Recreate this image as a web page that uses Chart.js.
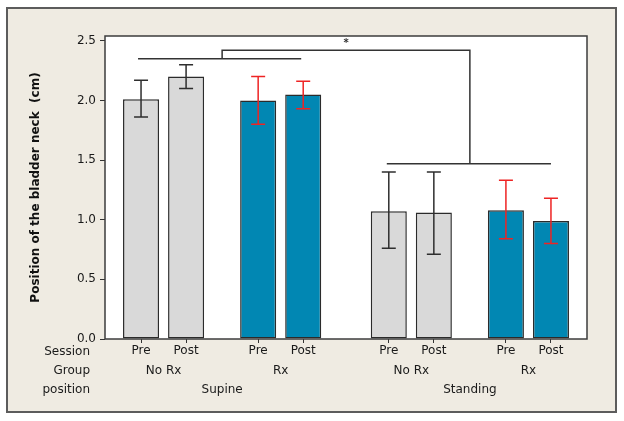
<!DOCTYPE html>
<html>
<head>
<meta charset="utf-8">
<script src="https://cdn.jsdelivr.net/npm/chart.js@4.4.1/dist/chart.umd.min.js"></script>
<style>
  body { margin: 0; background: #ffffff; }
  canvas { display: block; }
</style>
</head>
<body>
<canvas id="bladderChart" width="624" height="421"></canvas>
<script>
// data
const sessions = ['Pre', 'Post', 'Pre', 'Post', 'Pre', 'Post', 'Pre', 'Post'];
const groups = ['No Rx', 'Rx', 'No Rx', 'Rx'];
const positions = ['Supine', 'Standing'];
const rowTitles = ['Session', 'Group', 'position'];
const means = [2.01, 2.20, 2.00, 2.05, 1.07, 1.06, 1.08, 0.99];
const errHigh = [2.17, 2.30, 2.20, 2.16, 1.40, 1.40, 1.33, 1.18];
const errLow = [1.86, 2.10, 1.80, 1.93, 0.76, 0.71, 0.84, 0.80];
const yTicks = [0, 0.5, 1.0, 1.5, 2.0, 2.5];
// bracket heights (cm) of the significance marker
const bracketSupine = 2.35;
const bracketTop = 2.42;
const bracketStanding = 1.47;

// layout: bar slots, spacing between pairs / groups / positions
const groupOf = [0, 0, 1, 1, 2, 2, 3, 3];
const positionOf = [0, 0, 1, 1];
const pairStep = 1, groupStep = 1.6, positionStep = 1.9;
const xPos = [];
let cur = 1;
sessions.forEach((s, i) => {
    if (i > 0) {
        if (groupOf[i] === groupOf[i - 1]) cur += pairStep;
        else if (positionOf[groupOf[i]] === positionOf[groupOf[i - 1]]) cur += groupStep;
        else cur += positionStep;
    }
    xPos.push(cur);
});

const grey = '#d9d9d9';
const blue = '#0187b3';
const barFill = groupOf.map(g => g % 2 === 0 ? grey : blue);
const errColor = groupOf.map(g => g % 2 === 0 ? '#2e2e2e' : '#ee2424');
const inkColor = '#333333';
const labelFont = '12px "DejaVu Sans"';

// frame, plot background, error bars, brackets, lower label rows
const decorPlugin = {
    id: 'decor',
    beforeDraw(chart) {
        const c = chart.ctx;
        const a = chart.chartArea;
        c.save();
        c.fillStyle = '#ffffff';
        c.fillRect(0, 0, chart.width, chart.height);
        c.fillStyle = '#efebe2';
        c.fillRect(7, 8, 609, 404);
        c.strokeStyle = '#5c5c5c';
        c.lineWidth = 2;
        c.strokeRect(7, 8, 609, 404);
        c.fillStyle = '#ffffff';
        c.fillRect(a.left, a.top, a.right - a.left, a.bottom - a.top);
        c.restore();
    },
    afterDatasetsDraw(chart) {
        const c = chart.ctx;
        const x = chart.scales.x;
        const y = chart.scales.y;
        const a = chart.chartArea;
        c.save();
        // error bars
        c.lineWidth = 1.5;
        means.forEach((m, i) => {
            const px = x.getPixelForValue(xPos[i]);
            const hi = y.getPixelForValue(errHigh[i]);
            const lo = y.getPixelForValue(errLow[i]);
            c.strokeStyle = errColor[i];
            c.beginPath();
            c.moveTo(px, hi); c.lineTo(px, lo);
            c.moveTo(px - 7, hi); c.lineTo(px + 7, hi);
            c.moveTo(px - 7, lo); c.lineTo(px + 7, lo);
            c.stroke();
        });
        // brackets
        const supL = x.getPixelForValue(xPos[0]);
        const supR = x.getPixelForValue(xPos[3]);
        const staL = x.getPixelForValue(xPos[4]);
        const staR = x.getPixelForValue(xPos[7]);
        const supMid = (supL + supR) / 2;
        const staMid = (staL + staR) / 2;
        const ySup = y.getPixelForValue(bracketSupine);
        const yTop = y.getPixelForValue(bracketTop);
        const ySta = y.getPixelForValue(bracketStanding);
        c.strokeStyle = inkColor;
        c.lineWidth = 1.5;
        c.beginPath();
        c.moveTo(supL - 3, ySup); c.lineTo(supR - 2, ySup);
        c.moveTo(supMid, ySup); c.lineTo(supMid, yTop); c.lineTo(staMid, yTop); c.lineTo(staMid, ySta);
        c.moveTo(staL - 2, ySta); c.lineTo(staR, ySta);
        c.stroke();
        c.fillStyle = inkColor;
        c.font = 'bold 10px "DejaVu Sans"';
        c.textAlign = 'center';
        c.textBaseline = 'middle';
        c.fillText('*', (supMid + staMid) / 2, yTop - 7);
        // plot border
        c.strokeStyle = '#3c3c3c';
        c.lineWidth = 1.5;
        c.strokeRect(a.left, a.top, a.right - a.left, a.bottom - a.top);
        c.restore();
    },
    afterDraw(chart) {
        const c = chart.ctx;
        const x = chart.scales.x;
        const rowY = [352, 371, 390];
        c.save();
        c.fillStyle = '#1a1a1a';
        c.font = labelFont;
        c.textBaseline = 'middle';
        c.textAlign = 'right';
        rowTitles.forEach((t, r) => c.fillText(t, 90, rowY[r]));
        c.textAlign = 'center';
        groups.forEach((g, gi) => {
            const idx = groupOf.map((v, i) => v === gi ? i : -1).filter(i => i >= 0);
            const px = idx.reduce((s, i) => s + x.getPixelForValue(xPos[i]), 0) / idx.length;
            c.fillText(g, px, rowY[1]);
        });
        positions.forEach((p, pi) => {
            const idx = groupOf.map((g, i) => positionOf[g] === pi ? i : -1).filter(i => i >= 0);
            const px = idx.reduce((s, i) => s + x.getPixelForValue(xPos[i]), 0) / idx.length;
            c.fillText(p, px, rowY[2]);
        });
        c.restore();
    }
};

const ctx = document.getElementById('bladderChart').getContext('2d');
new Chart(ctx, {
    type: 'bar',
    data: {
        datasets: [{
            data: means.map((m, i) => ({ x: xPos[i], y: m })),
            backgroundColor: barFill,
            borderColor: '#2b2b2b',
            borderWidth: 1.5,
            borderSkipped: false,
            barPercentage: 0.8,
            categoryPercentage: 1
        }]
    },
    options: {
        responsive: false,
        animation: false,
        events: [],
        layout: { padding: { top: 36, right: 37, left: 0, bottom: 0 } },
        plugins: { legend: { display: false }, tooltip: { enabled: false } },
        scales: {
            x: {
                type: 'linear',
                offset: false,
                min: xPos[0] - 0.8,
                max: xPos[xPos.length - 1] + 0.8,
                afterBuildTicks(scale) { scale.ticks = xPos.map(v => ({ value: v })); },
                afterFit(scale) { scale.height = 82; },
                grid: { display: true, offset: false, drawOnChartArea: false, drawTicks: true, tickLength: 4, tickColor: inkColor },
                border: { display: false },
                ticks: {
                    autoSkip: false,
                    maxRotation: 0,
                    padding: 1,
                    color: '#1a1a1a',
                    font: { family: 'DejaVu Sans', size: 12 },
                    callback: (v, i) => sessions[i]
                }
            },
            y: {
                min: 0,
                max: 2.54,
                afterBuildTicks(scale) { scale.ticks = yTicks.map(v => ({ value: v })); },
                afterFit(scale) { scale.width = 105; },
                grid: { display: true, drawOnChartArea: false, drawTicks: true, tickLength: 5, tickColor: inkColor },
                border: { display: false },
                ticks: {
                    padding: 4,
                    color: '#1a1a1a',
                    font: { family: 'DejaVu Sans', size: 12 },
                    callback: v => v.toFixed(1)
                },
                title: {
                    display: true,
                    text: 'Position of the bladder neck  (cm)',
                    color: '#111111',
                    font: { family: 'DejaVu Sans', size: 12, weight: 'bold' },
                    padding: { top: 29, bottom: 0 }
                }
            }
        }
    },
    plugins: [decorPlugin]
});
</script>
</body>
</html>
